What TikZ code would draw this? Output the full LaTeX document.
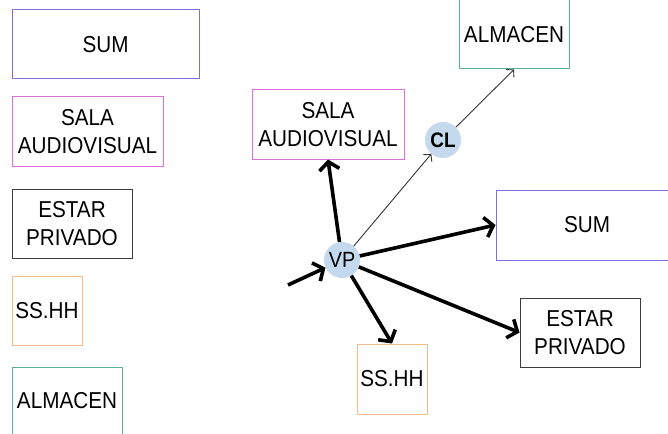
\documentclass[tikz,border=0pt]{standalone}
\usepackage{fontspec}
\usepackage{tikz}
\usepackage{xcolor}
\setmainfont{Liberation Sans}
\newfontfamily\roomfont[FakeStretch=0.9]{Liberation Sans}
\usetikzlibrary{arrows.meta, calc, positioning}
\definecolor{SumBlue}{HTML}{7A6EE2}
\definecolor{SalaPink}{HTML}{DA70DA}
\definecolor{EstarGray}{HTML}{3C3C3C}
\definecolor{SshhOrange}{HTML}{F0BE8A}
\definecolor{AlmTeal}{HTML}{5EAE98}
\definecolor{HubBlue}{HTML}{C4D8EE}

\begin{document}
\begin{tikzpicture}[x=1pt, y=-1pt,
    room/.style={draw, rectangle, align=center, inner sep=0pt, line width=1pt,
        minimum height=69pt, font=\roomfont\fontsize{23}{28}\selectfont},
    hub/.style={circle, fill=HubBlue, inner sep=0pt, minimum size=36pt,
        font=\roomfont\fontsize{22}{24}\selectfont},
    flow/.style={line width=3.6pt, -{Straight Barb[length=8pt, width=20pt]}},
    link/.style={line width=0.9pt, draw=black!80, -{Straight Barb[length=5pt, width=11pt]}}]
    \useasboundingbox (0,0) rectangle (668,433);
    % legend column
    \node[room, draw=SumBlue, minimum width=187pt] (sumL) at (105.5,44.5) {SUM};
    \node[room, draw=SalaPink, minimum width=151pt] (salaL) at (87.5,131.5) {SALA\\AUDIOVISUAL};
    \node[room, draw=EstarGray, minimum width=120pt] (estarL) at (72,223.5) {ESTAR\\PRIVADO};
    \node[room, draw=SshhOrange, minimum width=70pt] (sshhL) at (47,310.5) {SS.HH};
    \node[room, draw=AlmTeal, minimum width=110pt, minimum height=68pt] (almL) at (67,401) {ALMACEN};
    % diagram
    \node[room, draw=AlmTeal, minimum width=110pt] (almR) at (514,34.5) {ALMACEN};
    \node[room, draw=SalaPink, minimum width=152pt] (salaR) at (328,124.5) {SALA\\AUDIOVISUAL};
    \node[room, draw=SumBlue, minimum width=182pt, minimum height=70pt] (sumR) at (587,225) {SUM};
    \node[room, draw=EstarGray, minimum width=120pt] (estarR) at (580,332.5) {ESTAR\\PRIVADO};
    \node[room, draw=SshhOrange, minimum width=70pt, minimum height=70pt] (sshhR) at (392,379) {SS.HH};
    \node[hub, font=\roomfont\fontsize{21}{24}\selectfont\bfseries] (cl) at (443,140) {CL};
    \node[hub] (vp) at (342,260) {VP};
    \coordinate (entry) at (288,285);

    \draw[flow] (entry) -- (vp);
    \draw[flow] (vp) -- (salaR.south);
    \draw[flow] (vp) -- (sumR.west);
    \draw[flow] (vp) -- (estarR.west);
    \draw[flow] (vp) -- (sshhR.north);
    \draw[link] (vp) -- (cl);
    \draw[link] (cl) -- (almR.south);
\end{tikzpicture}
\end{document}
